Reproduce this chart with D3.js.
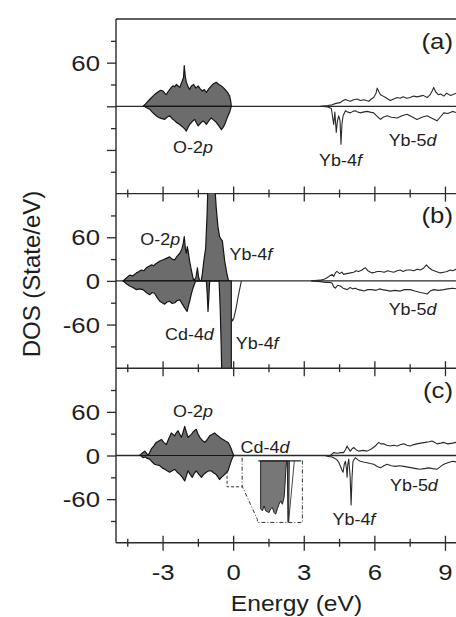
<!DOCTYPE html>
<html><head><meta charset="utf-8">
<script src="https://cdn.jsdelivr.net/npm/d3@7"></script>
<style>html,body{margin:0;padding:0;background:#fff;} svg{display:block;}</style>
</head><body>
<svg id="chart" width="456" height="617"></svg>
<script>
// ---------------- DATA ----------------
const xTickMajor = [-3, 0, 3, 6, 9];
const xTickMinor = [-4.5, -1.5, 1.5, 4.5, 7.5];
const yTickMajor = [-60, 0, 60];
const yTickMinor = [-90, -30, 30, 90];
const yLabelsA = [60];
const yLabelsB = [60, 0, -60];
const yLabelsC = [60, 0, -60];
const panelLabels = ["(a)", "(b)", "(c)"];

// Panel (a)
const aO2pUp = [[-3.85,0],[-3.75,3],[-3.64,7],[-3.55,10],[-3.43,14],[-3.33,17],[-3.21,20],[-3.1,22],[-3.0,21],[-2.93,18],[-2.86,16],[-2.79,20],[-2.72,23],[-2.65,26],[-2.58,28],[-2.5,27],[-2.43,30],[-2.36,28],[-2.29,26],[-2.23,31],[-2.18,35],[-2.13,40],[-2.1,56],[-2.06,42],[-2.01,33],[-1.94,27],[-1.87,23],[-1.8,28],[-1.7,30],[-1.6,25],[-1.51,28],[-1.42,24],[-1.33,21],[-1.25,23],[-1.16,19],[-1.06,24],[-0.95,28],[-0.85,31],[-0.74,33],[-0.63,30],[-0.52,28],[-0.42,25],[-0.31,21],[-0.24,18],[-0.17,14],[-0.12,6],[-0.1,0]];
const aO2pDown = [[-3.8,0],[-3.7,-2],[-3.57,-4],[-3.46,-8],[-3.36,-11],[-3.25,-14],[-3.14,-16],[-3.04,-17],[-2.93,-18],[-2.83,-15],[-2.72,-13],[-2.61,-17],[-2.5,-20],[-2.4,-23],[-2.29,-25],[-2.22,-27],[-2.15,-29],[-2.08,-31],[-2.01,-34],[-1.94,-29],[-1.87,-25],[-1.76,-21],[-1.65,-18],[-1.58,-23],[-1.51,-27],[-1.4,-23],[-1.3,-20],[-1.23,-22],[-1.16,-25],[-1.06,-20],[-0.95,-16],[-0.85,-19],[-0.74,-22],[-0.63,-27],[-0.52,-32],[-0.45,-29],[-0.38,-25],[-0.31,-19],[-0.24,-13],[-0.16,-7],[-0.1,0]];
const aYbUp = [[3.7,0],[4.0,1],[4.18,2],[4.35,4],[4.53,5],[4.65,8],[4.75,9.5],[4.85,8],[4.96,7],[5.1,9],[5.24,10],[5.38,8],[5.53,9],[5.64,8],[5.74,7],[5.85,10],[5.95,12],[6.05,18],[6.1,25],[6.17,20],[6.24,16],[6.35,14],[6.45,12],[6.55,10],[6.66,8],[6.8,10],[6.95,12],[7.08,11],[7.2,13],[7.35,11],[7.5,12],[7.65,14],[7.8,13],[7.93,14],[8.05,15],[8.22,12],[8.35,16],[8.45,22],[8.5,26],[8.58,20],[8.7,16],[8.8,17],[8.93,14],[9.05,18],[9.2,15],[9.3,16],[9.45,18],[9.6,15],[9.8,17],[10,16]];
const aYbDown = [[3.7,0],[4.0,-1],[4.15,-3],[4.25,-25],[4.3,-8],[4.36,-36],[4.41,-20],[4.46,-13],[4.52,-20],[4.56,-52],[4.6,-25],[4.65,-13],[4.75,-6],[4.85,-8],[4.96,-9],[5.07,-7],[5.17,-6],[5.28,-8],[5.38,-9],[5.5,-8],[5.67,-7],[5.8,-8],[5.95,-9],[6.1,-14],[6.24,-18],[6.35,-15],[6.52,-13],[6.7,-15],[6.95,-16],[7.15,-13],[7.37,-11],[7.55,-14],[7.79,-18],[8.0,-15],[8.22,-13],[8.4,-16],[8.64,-20],[8.8,-14],[8.93,-9],[9.1,-10],[9.3,-7],[9.5,-9],[9.7,-8],[10,-9]];

// Panel (b)
const bUpFill = [[-4.7,0],[-4.56,4],[-4.42,8],[-4.28,7],[-4.13,11],[-4.02,13],[-3.92,15],[-3.81,14],[-3.71,18],[-3.6,20],[-3.5,22],[-3.4,21],[-3.29,24],[-3.15,27],[-3.0,29],[-2.86,31],[-2.72,33],[-2.62,30],[-2.51,29],[-2.4,34],[-2.29,38],[-2.2,44],[-2.15,50],[-2.1,61],[-2.05,44],[-2.01,38],[-1.97,47],[-1.94,42],[-1.87,27],[-1.8,15],[-1.76,9],[-1.7,0],[-1.6,5],[-1.54,18],[-1.49,5],[-1.44,0],[-1.38,0],[-1.33,10],[-1.27,27],[-1.19,45],[-1.13,91],[-1.09,135],[-0.81,135],[-0.74,100],[-0.67,75],[-0.6,61],[-0.53,57],[-0.48,55],[-0.38,27],[-0.3,12],[-0.22,0]];
const bDownFill = [[-4.7,0],[-4.56,-4],[-4.42,-7],[-4.28,-9],[-4.13,-12],[-4.0,-11],[-3.85,-12],[-3.71,-16],[-3.57,-19],[-3.46,-16],[-3.36,-17],[-3.25,-23],[-3.14,-28],[-3.04,-30],[-2.93,-32],[-2.83,-29],[-2.72,-28],[-2.61,-31],[-2.5,-30],[-2.4,-27],[-2.29,-26],[-2.18,-32],[-2.08,-37],[-1.98,-42],[-1.92,-34],[-1.87,-28],[-1.8,-18],[-1.73,-10],[-1.65,-3],[-1.61,0],[-1.16,0],[-1.12,-20],[-1.09,-42],[-1.05,-20],[-1.02,0],[-0.62,0],[-0.57,-40],[-0.53,-90],[-0.5,-135],[-0.1,-135],[-0.1,0]];
const bYb4fTail = [[-0.1,-50],[-0.05,-55],[0.0,-52],[0.1,-38],[0.2,-20],[0.33,0]];
const bYbUp = [[3.3,0],[3.68,1],[3.9,3],[4.05,6],[4.18,9],[4.25,6],[4.32,11],[4.39,13],[4.5,10],[4.6,12],[4.67,9],[4.8,10],[4.96,11],[5.1,12],[5.2,14],[5.31,13],[5.45,15],[5.53,17],[5.6,18],[5.7,14],[5.88,11],[6.0,12],[6.1,13],[6.24,13],[6.4,12],[6.55,14],[6.66,13],[6.8,12],[6.95,14],[7.08,15],[7.2,13],[7.35,15],[7.5,15],[7.65,14],[7.8,16],[7.93,15],[8.05,17],[8.19,22],[8.3,18],[8.43,15],[8.6,13],[8.78,11],[8.93,12],[9.07,13],[9.2,15],[9.3,14],[9.45,16],[9.6,14],[9.8,15],[10,14]];
const bYbDown = [[3.3,0],[3.68,-1],[3.9,-2],[4.05,-2],[4.18,-3],[4.25,-8],[4.32,-10],[4.42,-6],[4.53,-7],[4.65,-10],[4.82,-12],[4.95,-9],[5.05,-11],[5.17,-10],[5.3,-12],[5.45,-13],[5.53,-14],[5.7,-12],[5.88,-12],[6.05,-13],[6.2,-11],[6.31,-12],[6.5,-13],[6.66,-14],[6.85,-13],[7.08,-14],[7.25,-12],[7.5,-12],[7.7,-14],[7.93,-16],[8.1,-17],[8.22,-18],[8.35,-14],[8.5,-12],[8.7,-13],[8.93,-12],[9.1,-11],[9.3,-10],[9.5,-11],[9.7,-10],[10,-11]];

// Panel (c)
const cO2pUp = [[-4.0,0],[-3.9,3],[-3.78,6],[-3.7,3],[-3.64,0],[-3.57,4],[-3.5,9],[-3.4,13],[-3.29,18],[-3.18,20],[-3.07,22],[-2.97,18],[-2.86,15],[-2.76,23],[-2.65,31],[-2.58,29],[-2.51,27],[-2.44,31],[-2.36,34],[-2.29,29],[-2.22,25],[-2.15,32],[-2.08,40],[-2.01,32],[-1.94,25],[-1.87,27],[-1.8,29],[-1.7,33],[-1.59,36],[-1.52,30],[-1.44,25],[-1.34,21],[-1.23,18],[-1.12,22],[-1.02,27],[-0.92,29],[-0.81,31],[-0.74,29],[-0.66,27],[-0.56,24],[-0.45,22],[-0.35,20],[-0.24,18],[-0.17,14],[-0.1,9],[-0.05,4],[0,0]];
const cO2pDown = [[-3.95,0],[-3.85,-3],[-3.75,-2],[-3.67,-4],[-3.57,-5],[-3.46,-9],[-3.36,-12],[-3.25,-13],[-3.14,-14],[-3.04,-17],[-2.93,-19],[-2.83,-21],[-2.72,-23],[-2.61,-21],[-2.5,-19],[-2.4,-23],[-2.29,-26],[-2.18,-30],[-2.08,-35],[-2.01,-28],[-1.94,-21],[-1.85,-26],[-1.76,-30],[-1.68,-25],[-1.59,-21],[-1.48,-26],[-1.37,-30],[-1.27,-26],[-1.16,-23],[-1.05,-21],[-0.95,-21],[-0.85,-24],[-0.74,-26],[-0.66,-30],[-0.6,-33],[-0.52,-30],[-0.45,-28],[-0.35,-25],[-0.24,-21],[-0.17,-14],[-0.1,-7],[-0.05,-3],[0,0]];
const cYbUp = [[3.9,0],[4.11,0],[4.25,4],[4.4,3],[4.55,4],[4.67,4],[4.75,8],[4.82,13],[4.89,9],[4.96,6],[5.03,9],[5.1,11],[5.2,8],[5.31,6],[5.5,7],[5.67,6],[5.85,9],[6.02,13],[6.1,16],[6.17,18],[6.25,16],[6.38,16],[6.5,14],[6.66,13],[6.8,14],[6.95,13],[7.1,15],[7.23,16],[7.36,14],[7.5,13],[7.65,15],[7.79,16],[7.95,17],[8.14,18],[8.3,19],[8.43,20],[8.55,18],[8.64,16],[8.8,17],[8.93,18],[9.1,16],[9.3,17],[9.45,18],[9.6,17],[9.8,18],[10,17]];
const cYbDown = [[3.9,0],[3.97,-1],[4.18,-2],[4.3,-4],[4.39,-6],[4.46,-9],[4.53,-14],[4.6,-20],[4.65,-23],[4.7,-12],[4.75,-8],[4.8,-20],[4.82,-30],[4.85,-12],[4.89,-5],[4.95,-30],[4.99,-68],[5.03,-30],[5.07,-8],[5.17,-3],[5.28,-6],[5.38,-8],[5.5,-9],[5.67,-10],[5.8,-11],[5.95,-12],[6.1,-15],[6.24,-17],[6.38,-14],[6.52,-12],[6.7,-14],[6.87,-15],[7.05,-14],[7.23,-15],[7.4,-16],[7.58,-17],[7.75,-18],[7.93,-19],[8.1,-18],[8.29,-17],[8.45,-18],[8.64,-19],[8.8,-15],[8.93,-12],[9.1,-10],[9.3,-8],[9.5,-9],[9.7,-8],[10,-9]];

// Inset of Cd-4d in panel (c): inset energy (eV) and DOS (arb.)
const insetFill = [[-0.269,0],[-0.269,-2.32],[-0.245,-2.42],[-0.222,-2.18],[-0.2,-2.42],[-0.177,-2.46],[-0.154,-2.5],[-0.132,-2.32],[-0.109,-2.26],[-0.086,-2.5],[-0.064,-2.58],[-0.041,-2.32],[-0.018,-2.1],[0.004,-1.94],[0.027,-2.1],[0.05,-1.78],[0.064,-1.11],[0.075,-0.39],[0.086,0],[0.095,0],[0.103,-2.98],[0.112,-2.95],[0.122,0]];
const insetLine = [[0.112,-2.95],[0.19,0]];
const insetDomainE = [-0.3, 0.3];
const insetDomainV = [0, -3];
const insetFrameE = [1.05, 2.92];
const insetFrameV = [-7.5, -92.6];
const calloutSmallBox = [[-0.28,-21],[-0.28,-43],[0.36,-43]];
const calloutOutline = [[0.36,-3],[0.36,-42],[1.01,-88],[1.01,-92],[2.92,-92],[2.92,-5]];

// Annotations [E, DOS, text parts]
const notesA = [[-1.73,-64,[["O-2",0],["p",1]]],[4.54,-81.8,[["Yb-4",0],["f",1]]],[7.6,-54.3,[["Yb-5",0],["d",1]]]];
const notesB = [[-3.12,49.3,[["O-2",0],["p",1]]],[0.73,28.7,[["Yb-4",0],["f",1]]],[-1.88,-81.5,[["Cd-4",0],["d",1]]],[1.0,-93.6,[["Yb-4",0],["f",1]]],[7.6,-46.9,[["Yb-5",0],["d",1]]]];
const notesC = [[-1.73,52.9,[["O-2",0],["p",1]]],[1.33,3.4,[["Cd-4",0],["d",1]]],[7.66,-48.8,[["Yb-5",0],["d",1]]],[5.11,-95.5,[["Yb-4",0],["f",1]]]];

// ---------------- LAYOUT ----------------
const W = 456, H = 617;
const padL = 116, padT = 19, panelH = 174.6;
const xRight = 469;
const FONT = "'Liberation Sans', Arial, Helvetica, sans-serif";
const STRETCH = 1.12;
const fillCol = "#6c6c6c", edgeCol = "#151515", lineCol = "#2a2a2a", axisCol = "#2a2a2a";

const svg = d3.select("#chart");
const x = d3.scaleLinear().domain([-5, 10]).range([padL, xRight]);

function stext(g, px, py, parts, size, anchor) {
  const t = g.append("text")
    .attr("transform", `translate(${px},${py}) scale(${STRETCH},1)`)
    .attr("text-anchor", anchor)
    .style("font-family", FONT).style("font-size", size + "px").attr("fill", "#1e1e1e");
  parts.forEach(p => t.append("tspan").text(p[0]).style("font-style", p[1] ? "italic" : "normal"));
  return t;
}

const panels = [
  {fills: [aO2pUp, aO2pDown], lines: [aYbUp, aYbDown], labels: yLabelsA, notes: notesA},
  {fills: [bUpFill, bDownFill], lines: [bYb4fTail, bYbUp, bYbDown], labels: yLabelsB, notes: notesB},
  {fills: [cO2pUp, cO2pDown], lines: [cYbUp, cYbDown], labels: yLabelsC, notes: notesC, inset: true}
];

panels.forEach((p, i) => {
  const y0 = padT + i * panelH, y1 = y0 + panelH;
  const y = d3.scaleLinear().domain([-120, 120]).range([y1, y0]);
  const g = svg.append("g");
  const cid = "clip" + i;
  svg.append("clipPath").attr("id", cid).append("rect")
    .attr("x", padL).attr("y", y0).attr("width", W - padL).attr("height", panelH);
  const pg = g.append("g").attr("clip-path", `url(#${cid})`);

  pg.append("line").attr("x1", padL).attr("x2", W).attr("y1", y(0)).attr("y2", y(0))
    .attr("stroke", axisCol).attr("stroke-width", 1.3);

  const area = d3.area().x(d => x(d[0])).y0(y(0)).y1(d => y(d[1]));
  const line = d3.line().x(d => x(d[0])).y(d => y(d[1]));
  p.fills.forEach(f => pg.append("path").attr("d", area(f))
    .attr("fill", fillCol).attr("stroke", edgeCol).attr("stroke-width", 1.2).attr("stroke-linejoin", "round"));
  p.lines.forEach(l => pg.append("path").attr("d", line(l))
    .attr("fill", "none").attr("stroke", lineCol).attr("stroke-width", 1.1).attr("stroke-linejoin", "round"));

  if (p.inset) {
    const ix = d3.scaleLinear().domain(insetDomainE).range([x(insetFrameE[0]), x(insetFrameE[1])]);
    const iy = d3.scaleLinear().domain(insetDomainV).range([y(insetFrameV[0]), y(insetFrameV[1])]);
    pg.append("path").attr("d", line(calloutSmallBox)).attr("fill", "none")
      .attr("stroke", "#333").attr("stroke-width", 1).attr("stroke-dasharray", "3,2");
    pg.append("path").attr("d", line(calloutOutline)).attr("fill", "none")
      .attr("stroke", "#333").attr("stroke-width", 1).attr("stroke-dasharray", "4,2,1,2");
    const iArea = d3.area().x(d => ix(d[0])).y0(iy(0)).y1(d => iy(d[1]));
    const iLine = d3.line().x(d => ix(d[0])).y(d => iy(d[1]));
    pg.append("path").attr("d", iArea(insetFill)).attr("fill", "#777")
      .attr("stroke", "#222").attr("stroke-width", 1);
    pg.append("path").attr("d", iLine(insetLine)).attr("fill", "none").attr("stroke", "#333").attr("stroke-width", 0.9);
    pg.append("line").attr("x1", ix(-0.3)).attr("x2", ix(0.28)).attr("y1", iy(0)).attr("y2", iy(0))
      .attr("stroke", "#222").attr("stroke-width", 1.3);
  }

  const axMaj = d3.axisLeft(y).tickValues(yTickMajor).tickSize(9).tickFormat("");
  const axMin = d3.axisLeft(y).tickValues(yTickMinor).tickSize(5).tickFormat("");
  [axMaj, axMin].forEach(ax => {
    const ag = g.append("g").attr("transform", `translate(${padL},0)`).call(ax);
    ag.select(".domain").remove();
    ag.selectAll("line").attr("stroke", axisCol).attr("stroke-width", 1.3);
  });
  p.labels.forEach(v => stext(g, padL - 16, y(v) + 8.2, [[String(v), 0]], 23, "end"));

  xTickMajor.forEach(t => g.append("line").attr("x1", x(t)).attr("x2", x(t))
    .attr("y1", y1 - 7).attr("y2", y1 + 8).attr("stroke", axisCol).attr("stroke-width", 1.3));
  xTickMinor.forEach(t => g.append("line").attr("x1", x(t)).attr("x2", x(t))
    .attr("y1", y1 - 4).attr("y2", y1 + 4).attr("stroke", axisCol).attr("stroke-width", 1.3));
  g.append("line").attr("x1", padL).attr("x2", W).attr("y1", y1).attr("y2", y1)
    .attr("stroke", axisCol).attr("stroke-width", 1.4);

  p.notes.forEach(n => stext(g, x(n[0]), y(n[1]), n[2], 16, "middle"));
  stext(g, 453, y0 + 29.5, [[panelLabels[i], 0]], 23, "end");
});

svg.append("line").attr("x1", padL).attr("x2", W).attr("y1", padT).attr("y2", padT)
  .attr("stroke", axisCol).attr("stroke-width", 1.4);
svg.append("line").attr("x1", padL).attr("x2", padL).attr("y1", padT).attr("y2", padT + 3 * panelH)
  .attr("stroke", axisCol).attr("stroke-width", 1.4);

xTickMajor.forEach(t => stext(svg, x(t), 580, [[String(t), 0]], 23, "middle"));
stext(svg, 296.5, 611, [["Energy (eV)", 0]], 22, "middle");

svg.append("text").attr("transform", "translate(40,274) rotate(-90)")
  .attr("text-anchor", "middle").style("font-family", FONT).style("font-size", "24px")
  .attr("fill", "#1e1e1e").text("DOS (State/eV)");
</script>
</body></html>
